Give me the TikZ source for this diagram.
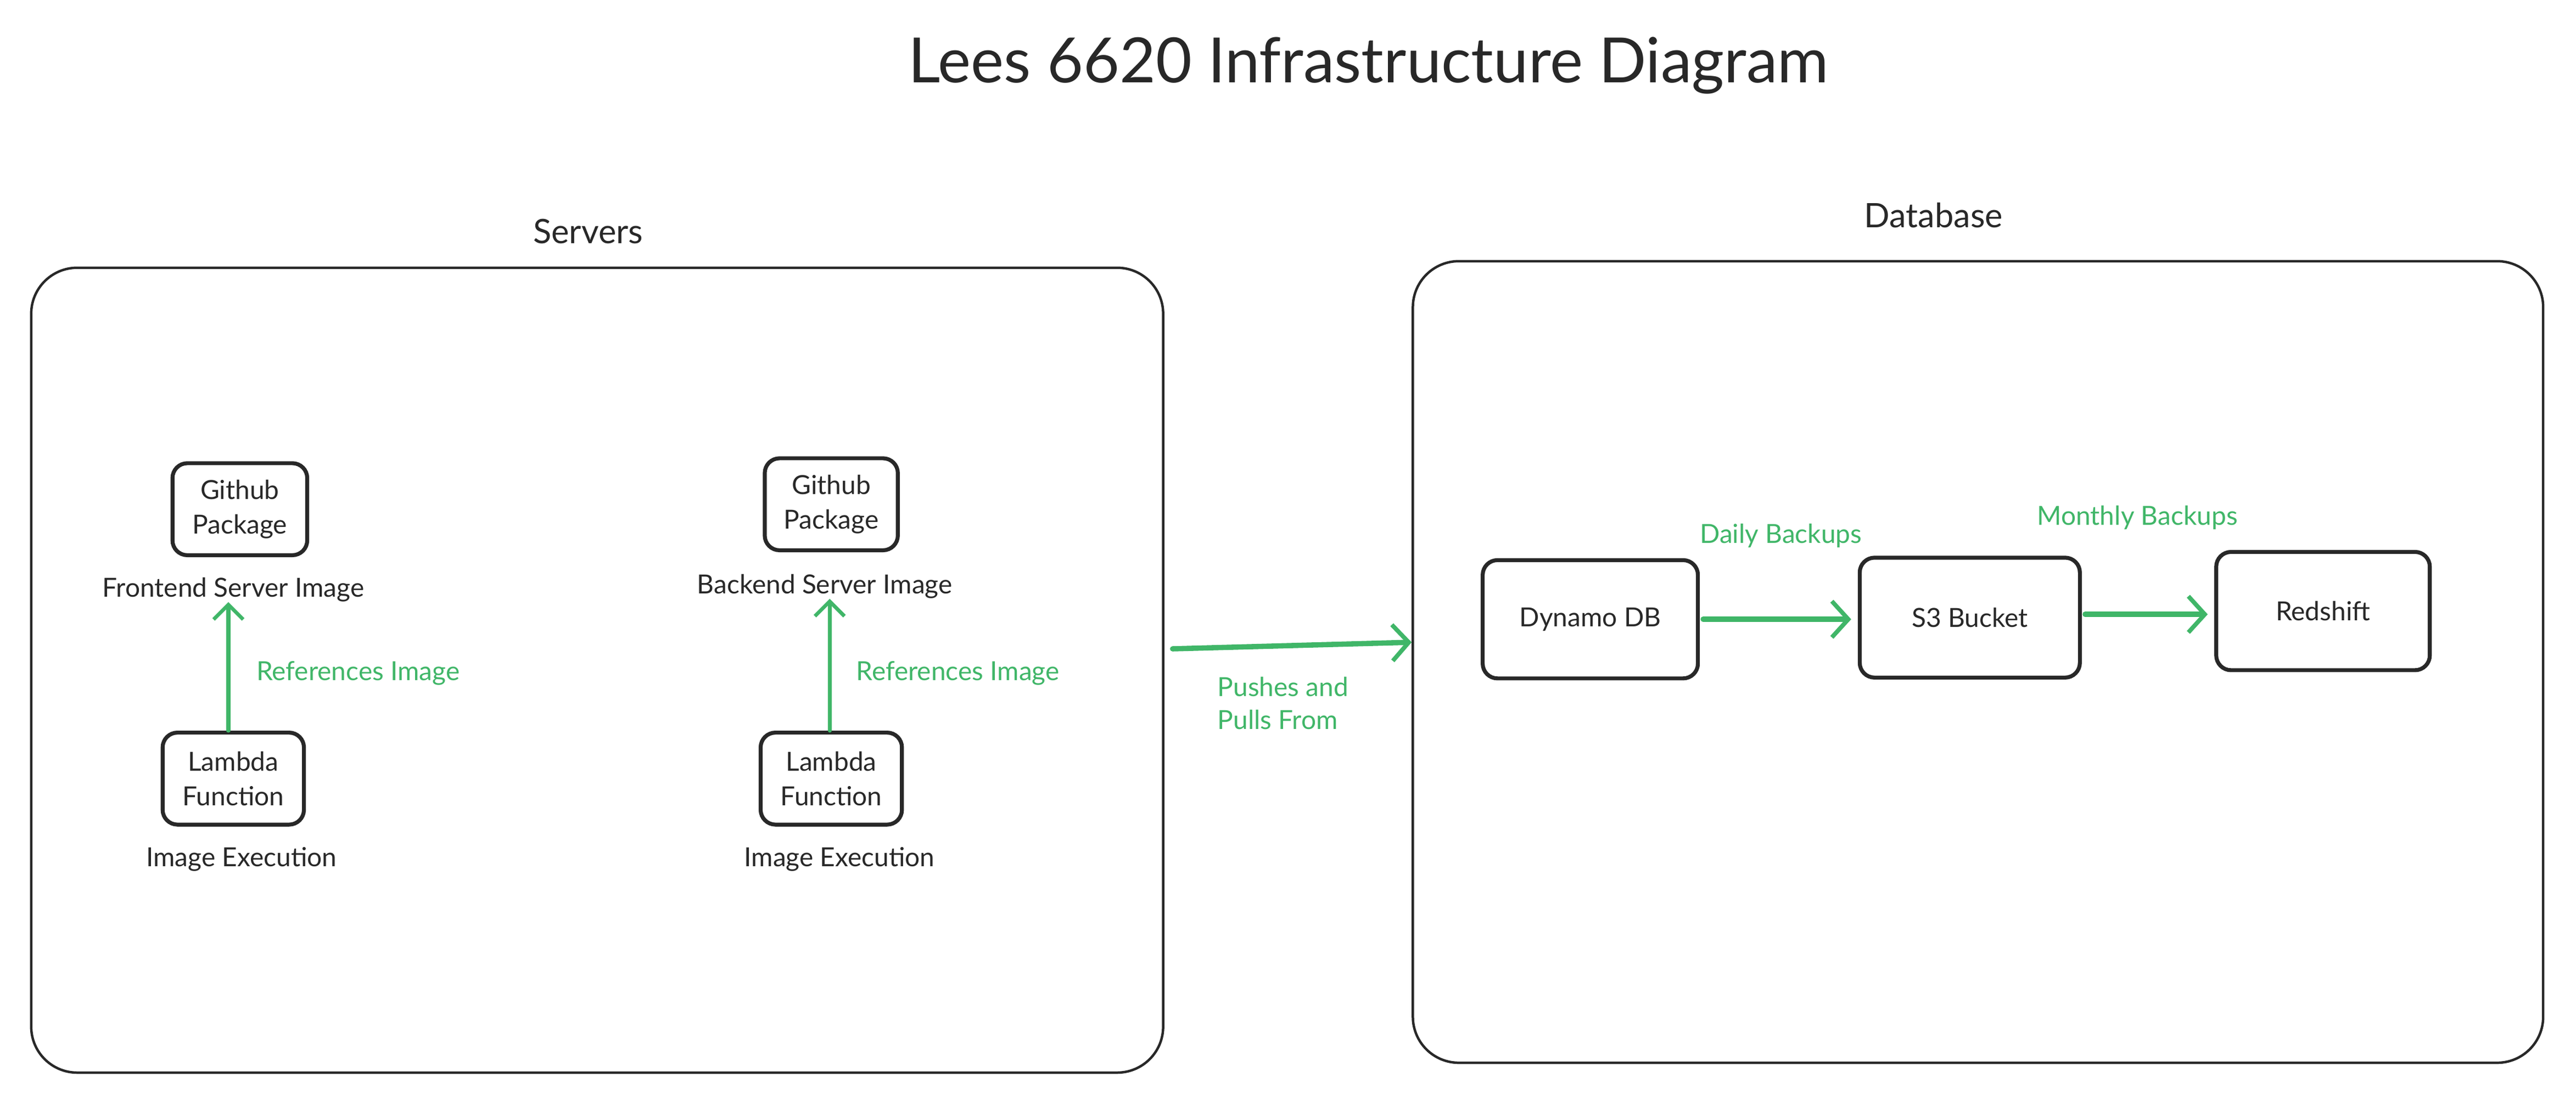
\documentclass[tikz,border=0pt]{standalone}
\usepackage{fontspec}
\setmainfont{Lato}
\usetikzlibrary{arrows.meta}
\definecolor{ink}{RGB}{40,40,40}
\definecolor{grn}{RGB}{64,182,104}
\tikzset{
  box/.style={draw=ink, line width=2.4pt, rounded corners=9pt, fill=white, align=center,
    font=\fontsize{16}{21}\selectfont, text=ink, inner sep=0pt},
  bigbox/.style={draw=ink, line width=1.5pt, rounded corners=28pt, inner sep=0pt},
  lbl/.style={text=ink, font=\fontsize{16}{21}\selectfont, inner sep=0pt},
  glbl/.style={text=grn, font=\fontsize{16}{20}\selectfont, inner sep=0pt, align=left},
  head/.style={text=ink, font=\fontsize{20.5}{24}\selectfont, inner sep=0pt},
  garrow/.style={draw=grn, line width=2.4pt, line cap=round,
    -{Straight Barb[length=9pt,width=18pt,line width=2.2pt]}},
  gthick/.style={draw=grn, line width=3.2pt, line cap=round,
    -{Straight Barb[length=10pt,width=22pt,line width=2.6pt]}}
}
\begin{document}
\begin{tikzpicture}[x=1pt,y=-1pt]
\fill[white] (0,0) rectangle (1568,672.4);
\useasboundingbox (0,0) rectangle (1568,672.4);

% title
\node[text=ink, font=\fontsize{38}{44}\selectfont, inner sep=0pt] (title) at (833,40) {Lees 6620 Infrastructure Diagram};

% group boxes
\node[bigbox, minimum width=689pt, minimum height=490pt] (srv) at (363.5,408) {};
\node[bigbox, minimum width=688pt, minimum height=488pt] (db) at (1204,403) {};
\node[head] (srvh) at (358,141) {Servers};
\node[head] (dbh) at (1177,131) {Database};

% frontend
\node[box, minimum width=82pt, minimum height=56pt] (gh1) at (146,310) {Github\\Package};
\node[lbl] (fe) at (142,359) {Frontend Server Image};
\node[box, minimum width=86pt, minimum height=56pt] (lam1) at (142,474) {Lambda\\Function};
\node[lbl] (ex1) at (147,523) {Image Execution};
\draw[garrow] (lam1.north) ++(-3,0) coordinate (a1) -- (a1 |- fe.south);
\node[glbl, anchor=west] (ref1) at (156,410) {References Image};

% backend
\node[box, minimum width=81pt, minimum height=56pt] (gh2) at (506,307) {Github\\Package};
\node[lbl] (be) at (502,357) {Backend Server Image};
\node[box, minimum width=86pt, minimum height=56pt] (lam2) at (506,474) {Lambda\\Function};
\node[lbl] (ex2) at (511,523) {Image Execution};
\draw[garrow] (lam2.north) ++(-1,0) coordinate (a2) -- (a2 |- be.south);
\node[glbl, anchor=west] (ref2) at (521,410) {References Image};

% pushes and pulls
\coordinate (pa) at ([xshift=5pt]srv.east |- 0,395);
\draw[gthick] (pa) -- (db.west |- 0,391);
\node[glbl, anchor=north west] (pp) at (741,412) {Pushes and\\Pulls From};

% database nodes
\node[box, minimum width=131pt, minimum height=72pt] (dyn) at (968,377) {Dynamo DB};
\node[box, minimum width=134pt, minimum height=73pt] (s3) at (1199,376) {S3 Bucket};
\node[box, minimum width=130pt, minimum height=72pt] (red) at (1414,372) {Redshift};
\draw[gthick] ([xshift=2pt]dyn.east) -- ([xshift=-4pt]s3.west |- dyn.east);
\draw[gthick] ([xshift=2pt]s3.east |- 0,374) -- ([xshift=-4pt]red.west |- 0,374);
\node[glbl] (daily) at (1084,326) {Daily Backups};
\node[glbl] (monthly) at (1301,315) {Monthly Backups};
\end{tikzpicture}
\end{document}
